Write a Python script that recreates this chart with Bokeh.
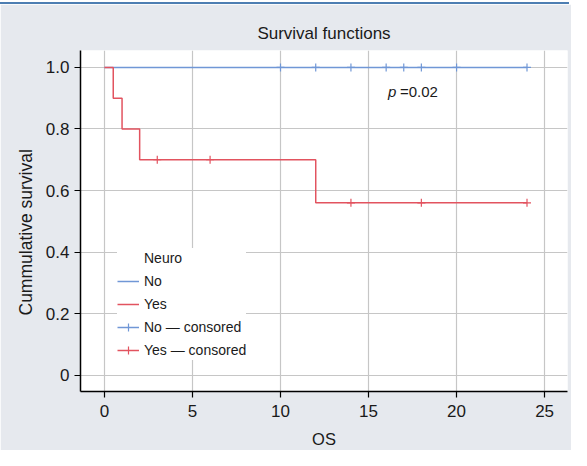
from bokeh.plotting import figure
from bokeh.models import (Legend, LegendItem, FixedTicker, Label, Range1d, Title)
from bokeh.embed import file_html
from bokeh.resources import INLINE

# ---- data ----
no_time = [0, 24]
no_surv = [1.0, 1.0]
no_cens_time = [10, 12, 14, 16, 17, 18, 20, 24]
no_cens_surv = [1.0, 1.0, 1.0, 1.0, 1.0, 1.0, 1.0, 1.0]

yes_time = [0, 0.5, 1, 2, 12, 24]
yes_surv = [1.0, 0.9, 0.8, 0.7, 0.56, 0.56]
yes_cens_time = [3, 6, 14, 18, 24]
yes_cens_surv = [0.7, 0.7, 0.56, 0.56, 0.56]

x_ticks = [0, 5, 10, 15, 20, 25]
y_ticks = [0, 0.2, 0.4, 0.6, 0.8, 1.0]
y_tick_labels = ["0", "0.2", "0.4", "0.6", "0.8", "1.0"]

title_text = "Survival functions"
x_label = "OS"
y_label = "Cummulative survival"
p_text = "=0.02"

BLUE = "#7097d6"
RED = "#e2535f"
FONT = "Liberation Sans"
TXT = "#1a1a1a"

p = figure(width=571, height=446, output_backend="svg", toolbar_location=None,
           x_range=Range1d(-1.36, 26.3), y_range=Range1d(-0.053, 1.055),
           min_border_left=80, min_border_right=4, min_border_top=46, min_border_bottom=59)
p.margin = (4, 0, 0, 0)

p.background_fill_color = "white"
p.border_fill_color = "#e6e9ee"
p.outline_line_color = None
p.styles = {"box-shadow": "-2px -2px 0 0 #4d7eb2"}

p.title.text = title_text
p.title.align = "center"
p.title.text_font = FONT
p.title.text_font_size = "17px"
p.title.text_font_style = "normal"
p.title.text_color = TXT
p.title.standoff = 15

for ax in (p.xaxis, p.yaxis):
    ax.axis_line_color = "black"
    ax.axis_line_width = 1.5
    ax.major_tick_line_color = "black"
    ax.major_tick_line_width = 1.2
    ax.major_tick_out = 6
    ax.major_tick_in = 0
    ax.minor_tick_line_color = None
    ax.major_label_text_font = FONT
    ax.major_label_text_font_size = "17px"
    ax.major_label_text_color = TXT
    ax.axis_label_text_font = FONT
    ax.axis_label_text_font_size = "16.5px"
    ax.axis_label_text_font_style = "normal"
    ax.axis_label_text_color = TXT

p.xaxis.ticker = FixedTicker(ticks=x_ticks)
p.yaxis.ticker = FixedTicker(ticks=y_ticks)
p.yaxis.major_label_overrides = {t: l for t, l in zip(y_ticks, y_tick_labels)}
p.xaxis.axis_label = x_label
p.xaxis.major_label_standoff = 7
p.yaxis.major_label_standoff = 5
p.xaxis.axis_label_standoff = 10

# y-axis title: sits a little below the frame centre, as in the original
p.add_layout(Title(text=y_label, align="left", offset=76, standoff=14,
                   text_font=FONT, text_font_size="17.5px", text_font_style="normal",
                   text_color=TXT), "left")

p.grid.grid_line_color = "#c6c6c6"
p.grid.grid_line_width = 1.2
p.xgrid.ticker = FixedTicker(ticks=x_ticks)
p.ygrid.ticker = FixedTicker(ticks=y_ticks)

r_title = p.line([], [], line_alpha=0)
r_no = p.step(no_time, no_surv, mode="after", line_color=BLUE, line_width=1.5)
r_no_c = p.scatter(no_cens_time, no_cens_surv, marker="cross", size=8,
                   line_color=BLUE, line_width=1.2)
r_yes = p.step(yes_time, yes_surv, mode="after", line_color=RED, line_width=1.5)
r_yes_c = p.scatter(yes_cens_time, yes_cens_surv, marker="cross", size=8,
                    line_color=RED, line_width=1.2)

p.add_layout(Label(x=16.1, y=0.922, text="p", text_font=FONT, text_font_size="15px",
                   text_font_style="italic", text_color=TXT,
                   text_baseline="middle", text_align="left"))
p.add_layout(Label(x=16.1, y=0.922, x_offset=12, text=p_text, text_font=FONT,
                   text_font_size="15px", text_color=TXT,
                   text_baseline="middle", text_align="left"))

legend = Legend(items=[
    LegendItem(label="Neuro", renderers=[r_title]),
    LegendItem(label="No", renderers=[r_no]),
    LegendItem(label="Yes", renderers=[r_yes]),
    LegendItem(label="No \u2014 consored", renderers=[r_no, r_no_c]),
    LegendItem(label="Yes \u2014 consored", renderers=[r_yes, r_yes_c]),
], location=(37, 31))
legend.background_fill_color = "white"
legend.background_fill_alpha = 1
legend.border_line_color = None
legend.label_text_font = FONT
legend.label_text_font_size = "14px"
legend.label_text_color = TXT
legend.glyph_width = 22
legend.glyph_height = 20
legend.label_height = 20
legend.spacing = 3
legend.padding = 5
legend.margin = 0
legend.label_standoff = 5
p.add_layout(legend, "center")

open("out.html", "w").write(file_html(p, INLINE))
